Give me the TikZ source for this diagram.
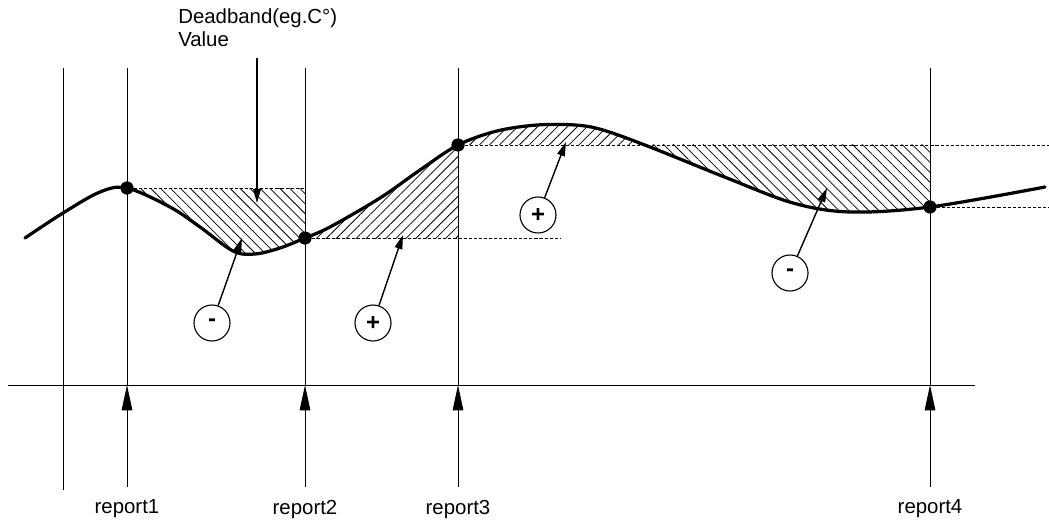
\documentclass[tikz,border=0pt]{standalone}
\usepackage{fontspec}
\setmainfont{Liberation Sans}
\usetikzlibrary{arrows.meta,patterns.meta}

\def\signalcurve{plot[smooth,tension=0.55] coordinates {
    (25,238) (63,213) (100,192) (127,188) (170,207) (200,227)
    (233,251) (255,254) (280,248) (305,238) (330,227) (380,198)
    (420,170) (458,145) (497,131) (537,125) (575,125) (603,130)
    (650,147) (727,178) (793,203) (850,212) (930,207) (1045,187)
  }}

\begin{document}
\begin{tikzpicture}[x=0.025cm,y=-0.025cm,
    thin line/.style={line width=0.7pt},
    guide/.style={line width=0.55pt,dash pattern=on 2.2pt off 1.4pt},
    signal/.style={line width=2.3pt,line join=round,line cap=round},
    sample/.style={circle,fill=black,inner sep=0pt,minimum size=0.32cm},
    sign/.style={circle,draw,line width=0.8pt,inner sep=0pt,
      minimum size=0.9cm,font=\bfseries\fontsize{17}{17}\selectfont},
    pointer/.style={-{Triangle[length=10pt,width=5.5pt]},line width=1pt},
    trigger/.style={-{Triangle[length=18pt,width=7.5pt]},line width=0.7pt},
    caption/.style={font=\fontsize{14.5}{16.5}\selectfont},
    hatch up/.style={pattern={Lines[angle=45,distance=5pt,line width=0.55pt]}},
    hatch down/.style={pattern={Lines[angle=-45,distance=5pt,line width=0.55pt]}}]

  \useasboundingbox (0,0) rectangle (1049,525);

  % hatched areas above / below the signal
  \begin{scope}
    \clip \signalcurve -- (1049,0) -- (0,0) -- cycle;
    \fill[hatch down] (127,188) rectangle (305,525);
    \fill[hatch down] (458,145) rectangle (930,525);
  \end{scope}
  \begin{scope}
    \clip \signalcurve -- (1049,525) -- (0,525) -- cycle;
    \fill[hatch up] (305,0) rectangle (458,238);
    \fill[hatch up] (458,0) rectangle (700,145);
  \end{scope}

  % sample points
  \node[sample] (s1) at (127,188) {};
  \node[sample] (s2) at (305,238) {};
  \node[sample] (s3) at (458,145) {};
  \node[sample] (s4) at (930,207) {};

  % deadband levels
  \coordinate (g1) at (305,188);
  \coordinate (g2) at (560,238);
  \coordinate (g3) at (1049,145);
  \coordinate (g4) at (1049,207);
  \draw[guide] (s1) -- (g1);
  \draw[guide] (s2) -- (g2);
  \draw[guide] (s3) -- (g3);
  \draw[guide] (s4) -- (g4);

  % time axis and report instants
  \coordinate (ax0) at (8,385);
  \coordinate (ax1) at (975,385);
  \draw[thin line] (ax0) -- (ax1);
  \coordinate (start top) at (63,68);
  \coordinate (start foot) at (63,490);
  \draw[thin line] (start top) -- (start foot);
  \foreach \x/\n in {127/1,305/2,458/3,930/4} {
    \coordinate (top\n) at (\x,68);
    \coordinate (axis\n) at (\x,385);
    \coordinate (foot\n) at (\x,487);
    \draw[thin line] (top\n) -- (axis\n);
    \draw[trigger] (foot\n) -- (axis\n);
    \node[caption] (rep\n) at (\x,509) {report\n};
  }

  \draw[signal] \signalcurve;
  \fill (s1) circle (6.5);
  \fill (s2) circle (6.5);
  \fill (s3) circle (6.5);
  \fill (s4) circle (6.5);

  % deadband value
  \node[caption,anchor=north west,align=left,inner sep=0pt]
    (db) at (178,8) {Deadband(eg.C°)\\Value};
  \coordinate (db top) at (257,58);
  \coordinate (db tip) at (257,203);
  \draw[pointer] (db top) -- (db tip);

  % signs of the areas
  \node[sign] (m1) at (212,323) {-};
  \node[sign] (p1) at (373,323) {+};
  \node[sign] (p2) at (538,215) {+};
  \node[sign] (m2) at (790,273) {-};
  \coordinate (m1 tip) at (242,238);
  \coordinate (p1 tip) at (403,235);
  \coordinate (p2 tip) at (566,142);
  \coordinate (m2 tip) at (827,188);
  \draw[pointer] (m1) -- (m1 tip);
  \draw[pointer] (p1) -- (p1 tip);
  \draw[pointer] (p2) -- (p2 tip);
  \draw[pointer] (m2) -- (m2 tip);
\end{tikzpicture}
\end{document}
